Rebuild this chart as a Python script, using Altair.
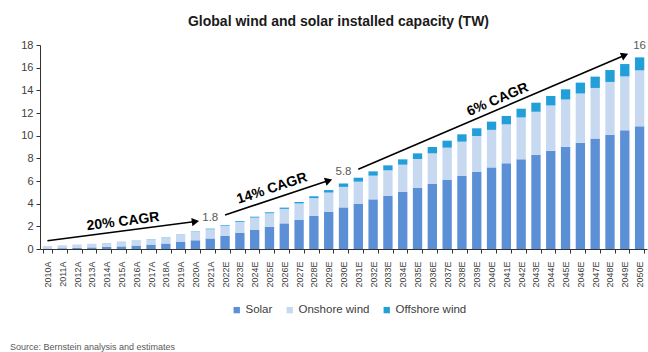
import math
import altair as alt
import pandas as pd

# Installed capacity by year (TW): actuals to 2021, estimates from 2022
years = [f"{y}A" for y in range(2010, 2022)] + [f"{y}E" for y in range(2022, 2051)]

solar = [0.04, 0.07, 0.10, 0.14, 0.18, 0.23, 0.30, 0.39, 0.49, 0.62, 0.77, 0.93,
         1.15, 1.41, 1.68, 1.94, 2.26, 2.56, 2.91, 3.29, 3.67,
         4.00, 4.38, 4.70, 5.03, 5.41, 5.74, 6.12, 6.47, 6.82, 7.20,
         7.56, 7.91, 8.29, 8.68, 9.03, 9.38, 9.74, 10.09, 10.47, 10.82]

onshore = [0.21, 0.25, 0.28, 0.30, 0.34, 0.41, 0.45, 0.47, 0.53, 0.62, 0.74, 0.81,
           0.91, 0.99, 1.09, 1.21, 1.28, 1.46, 1.58, 1.69, 1.81,
           1.94, 2.09, 2.24, 2.41, 2.53, 2.70, 2.82, 3.00, 3.15, 3.31,
           3.44, 3.70, 3.82, 3.98, 4.16, 4.34, 4.47, 4.65, 4.76, 4.94]

offshore = [0.003, 0.004, 0.005, 0.007, 0.009, 0.012, 0.014, 0.019, 0.023, 0.029, 0.035, 0.055,
            0.06, 0.07, 0.08, 0.09, 0.11, 0.13, 0.16, 0.22, 0.30,
            0.35, 0.38, 0.44, 0.47, 0.50, 0.56, 0.62, 0.65, 0.68, 0.73,
            0.74, 0.77, 0.80, 0.84, 0.90, 0.96, 1.00, 1.05, 1.09, 1.15]

series_names = ["Solar", "Onshore wind", "Offshore wind"]
series_colors = ["#5b8fd6", "#c6d9f1", "#229fd8"]

# Milestone totals called out above the bars
label_years = ["2021A", "2030E", "2050E"]
label_texts = ["1.8", "5.8", "16"]

# Growth-rate arrows: start and end (year, TW)
arrow_start_years = ["2010A", "2022E", "2031E"]
arrow_start_vals = [0.73, 3.0, 7.03]
arrow_end_years = ["2020A", "2029E", "2049E"]
arrow_end_vals = [2.42, 6.04, 17.1]
cagr_texts = ["20% CAGR", "14% CAGR", "6% CAGR"]
cagr_years = ["2015A", "2025E", "2040E"]
cagr_vals = [2.39, 5.26, 12.95]
cagr_dx = [1.6, 2.7, 6.6]

source_text = "Source: Bernstein analysis and estimates"

FONT = "Liberation Sans, Arial, Helvetica, sans-serif"
W, H = 607, 204
Y_MAX = 18
Y_TICKS = list(range(0, Y_MAX + 1, 2))

rows = []
for i, yr in enumerate(years):
    for k, (name, vals) in enumerate(zip(series_names, [solar, onshore, offshore])):
        rows.append({"year": yr, "series": name, "value": vals[i], "order": k})
bars_df = pd.DataFrame(rows)

totals = {yr: solar[i] + onshore[i] + offshore[i] for i, yr in enumerate(years)}
labels_df = pd.DataFrame({
    "year": label_years,
    "total": [totals[y] for y in label_years],
    "text": label_texts,
})

# Screen-space angle of each arrow so heads and captions follow the shaft
step_px = W / len(years)
unit_px = H / Y_MAX
angles = []
for sy, sv, ey, ev in zip(arrow_start_years, arrow_start_vals, arrow_end_years, arrow_end_vals):
    dx = (years.index(ey) - years.index(sy)) * step_px
    dy = (ev - sv) * unit_px
    angles.append(360 - math.degrees(math.atan2(dy, dx)))

arrow_rows = []
for a in range(3):
    arrow_rows.append({"arrow": a, "year": arrow_start_years[a], "v": arrow_start_vals[a], "pt": 0})
    arrow_rows.append({"arrow": a, "year": arrow_end_years[a], "v": arrow_end_vals[a], "pt": 1})
arrows_df = pd.DataFrame(arrow_rows)
heads_df = pd.DataFrame({"year": arrow_end_years, "v": arrow_end_vals, "angle": angles})

x_axis = alt.Axis(
    title=None, labelAngle=270, labelFontSize=9, labelFont=FONT,
    labelColor="#404040", tickBand="extent", tickSize=4, tickColor="#333333",
    domainColor="#333333", labelPadding=8, labelOverlap=False,
)
x_scale = alt.Scale(paddingInner=0.37, paddingOuter=0.185)
y_axis = alt.Axis(
    title=None, values=Y_TICKS, grid=False,
    tickSize=4, tickColor="#333333", domainColor="#333333",
    labelFontSize=11, labelFont=FONT, labelColor="#404040", labelPadding=3,
    labelOverlap=False,
)
y_scale = alt.Scale(domain=[0, Y_MAX], nice=False)


def xe():
    return alt.X("year:N", sort=years, scale=x_scale, axis=x_axis)


def ye(field, **kw):
    return alt.Y(field, scale=y_scale, axis=y_axis, **kw)


bars = alt.Chart(bars_df).mark_bar().encode(
    x=xe(),
    y=ye("value:Q", stack="zero"),
    color=alt.Color(
        "series:N",
        scale=alt.Scale(domain=series_names, range=series_colors),
        legend=alt.Legend(
            title=None, orient="none", direction="horizontal",
            legendX=191, legendY=259, symbolType="square", symbolSize=40,
            symbolStrokeWidth=0, labelFontSize=11.5, labelFont=FONT,
            labelColor="#404040", labelOffset=3, columnPadding=11, padding=0,
        ),
    ),
    order=alt.Order("order:Q"),
)

shafts = alt.Chart(arrows_df).mark_line(color="black", strokeWidth=1.6).encode(
    x=xe(),
    y=ye("v:Q"),
    detail="arrow:N",
    order="pt:Q",
)

heads = alt.Chart(heads_df).mark_point(
    shape="triangle-right", filled=True, color="black", opacity=1, size=70
).encode(
    x=xe(),
    y=ye("v:Q"),
    angle=alt.Angle("angle:Q", scale=None),
)

cagr_layers = []
for t, yr, v, ang, ddx in zip(cagr_texts, cagr_years, cagr_vals, angles, cagr_dx):
    cagr_layers.append(
        alt.Chart(pd.DataFrame({"year": [yr], "v": [v], "t": [t]})).mark_text(
            font=FONT, fontSize=14, fontWeight="bold", color="black",
            angle=ang, baseline="middle", align="center", dx=ddx,
        ).encode(
            x=xe(),
            y=ye("v:Q"),
            text="t:N",
        )
    )

value_labels = alt.Chart(labels_df).mark_text(
    font=FONT, fontSize=11.5, color="#595959", baseline="bottom", dy=-6
).encode(
    x=xe(),
    y=ye("total:Q"),
    text="text:N",
)

source = alt.Chart(pd.DataFrame({"t": [source_text]})).mark_text(
    font=FONT, fontSize=9, color="#595959", align="left", baseline="alphabetic"
).encode(
    x=alt.value(-30),
    y=alt.value(305),
    text="t:N",
)

chart = alt.layer(bars, shafts, heads, *cagr_layers, value_labels, source).properties(
    width=W,
    height=H,
    title=alt.TitleParams(
        "Global wind and solar installed capacity (TW)",
        font=FONT, fontSize=14, fontWeight="bold", color="#1a1a1a",
        anchor="middle", frame="group", dx=-5, offset=10,
    ),
    autosize=alt.AutoSizeParams(type="none"),
    padding={"left": 40, "top": 45, "right": 1, "bottom": 103},
).configure_view(strokeWidth=0)

chart.save("out.html", embed_options={"renderer": "svg", "actions": False})
